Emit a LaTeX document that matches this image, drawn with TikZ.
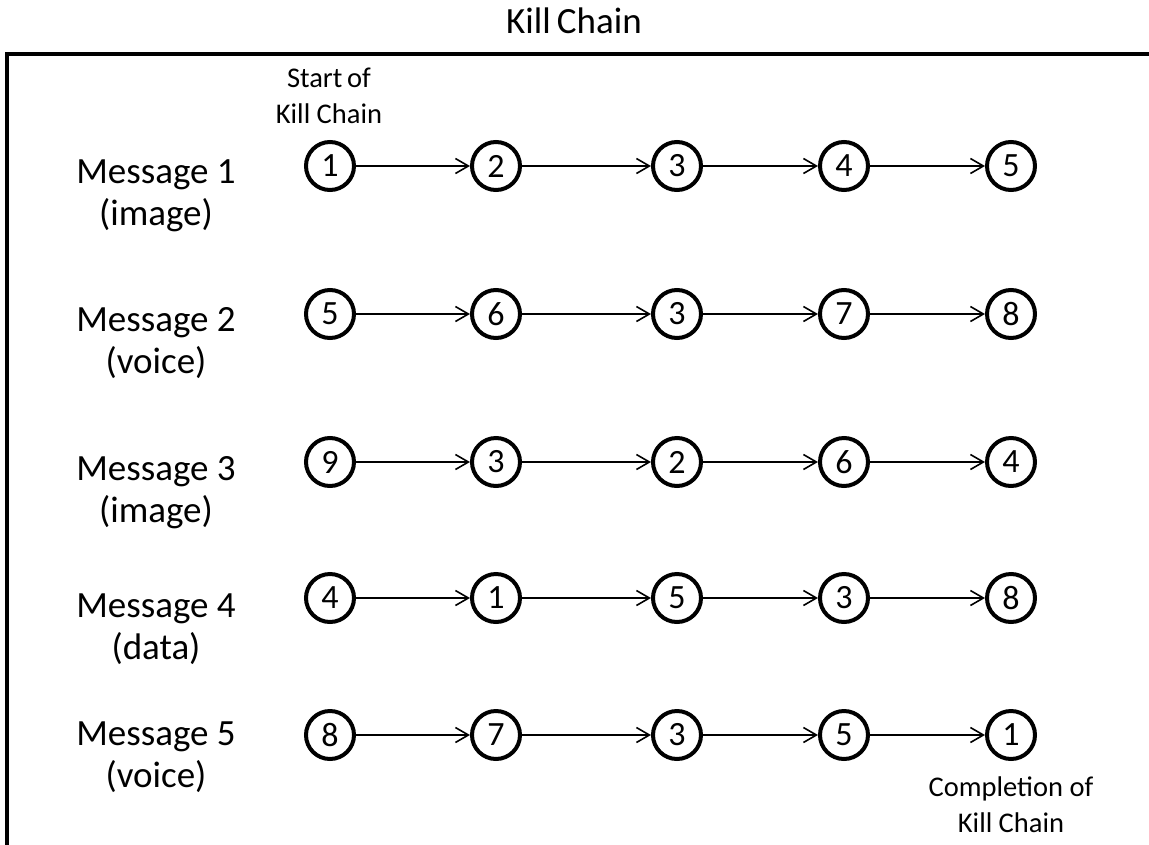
\documentclass[tikz,border=0pt]{standalone}
\usepackage{fontspec}
\setmainfont{Carlito}
\usetikzlibrary{arrows.meta}
\begin{document}
\begin{tikzpicture}[x=1pt,y=-1pt,
  stepnode/.style={circle,draw,line width=4pt,minimum size=48pt,inner sep=0pt,
    font=\fontsize{34}{36}\selectfont},
  link/.style={line width=1.6pt,-{Straight Barb[length=13pt,width=15pt,line width=1.6pt]}},
  msg/.style={align=center,font=\fontsize{37}{42}\selectfont,inner sep=0pt},
  small/.style={align=center,font=\fontsize{28.5}{36}\selectfont,inner sep=0pt},
  frameline/.style={line width=3.5pt}]
\useasboundingbox (0,0) rectangle (1149,844);
\draw[frameline] (7,860) -- (7,54) -- (1160,54);
\node[msg,anchor=base] (title) at (574,33) {Kill\,Chain};

% rows
\def\colA{330}\def\colB{496}\def\colC{677}\def\colD{844}\def\colE{1011}
\foreach \r/\y/\a/\b/\c/\d/\e in {1/166/1/2/3/4/5, 2/314/5/6/3/7/8, 3/462/9/3/2/6/4, 4/598/4/1/5/3/8, 5/735/8/7/3/5/1}{
  \node[stepnode] (n\r a) at (\colA,\y) {\a};
  \node[stepnode] (n\r b) at (\colB,\y) {\b};
  \node[stepnode] (n\r c) at (\colC,\y) {\c};
  \node[stepnode] (n\r d) at (\colD,\y) {\d};
  \node[stepnode] (n\r e) at (\colE,\y) {\e};
  \draw[link] (n\r a) -- (n\r b);
  \draw[link] (n\r b) -- (n\r c);
  \draw[link] (n\r c) -- (n\r d);
  \draw[link] (n\r d) -- (n\r e);
}

% anchor=base is the baseline of the last line
\node[msg,anchor=base] (m1) at (156,225) {Message 1\\(image)};
\node[msg,anchor=base] (m2) at (156,373) {Message 2\\(voice)};
\node[msg,anchor=base] (m3) at (156,522) {Message 3\\(image)};
\node[msg,anchor=base] (m4) at (156,659) {Message 4\\(data)};
\node[msg,anchor=base] (m5) at (156,787) {Message 5\\(voice)};

\node[small,anchor=base] (start) at (329,123) {Start\,of\\Kill Chain};
\node[small,anchor=base] (done) at (1011,832) {Completion of\\Kill Chain};
\end{tikzpicture}
\end{document}
